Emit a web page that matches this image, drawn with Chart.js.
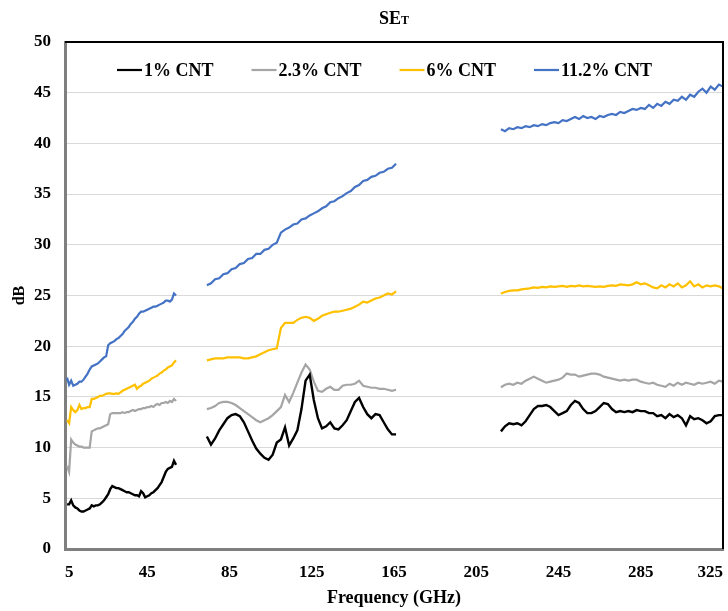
<!DOCTYPE html>
<html>
<head>
<meta charset="utf-8">
<title>SET</title>
<script src="https://cdn.jsdelivr.net/npm/chart.js@4/dist/chart.umd.min.js"></script>
<style>
  html, body { margin: 0; padding: 0; background: #fff; }
  #wrap { width: 728px; height: 611px; }
</style>
</head>
<body>
<div id="wrap"><canvas id="chart"></canvas></div>
<script>
const seriesLabels = ['1% CNT', '2.3% CNT', '6% CNT', '11.2% CNT'];
const xTicks = [5, 45, 85, 125, 165, 205, 245, 285, 325];

// three measured bands (GHz)
const freqLow = [6, 7, 8, 9, 10, 11, 12, 13, 14, 15, 16, 17, 18, 19, 20, 21, 22, 23, 24, 25, 26, 27, 28, 29, 30,
  31, 32, 33, 34, 35, 36, 37, 38, 39, 40, 41, 42, 43, 44, 45, 46, 47, 48, 49, 50, 51, 52, 53, 54, 55, 56, 57, 58, 59];
const freqMid = [74, 76, 78, 80, 82, 84, 86, 88, 90, 92, 94, 96, 98, 100, 102, 104, 106, 108, 110, 112, 114, 116,
  118, 120, 122, 124, 126, 128, 130, 132, 134, 136, 138, 140, 142, 144, 146, 148, 150, 152, 154, 156, 158, 160,
  162, 164, 166];
const freqHigh = [217, 219, 221, 223, 225, 227, 229, 231, 233, 235, 237, 239, 241, 243, 245, 247, 249, 251, 253,
  255, 257, 259, 261, 263, 265, 267, 269, 271, 273, 275, 277, 279, 281, 283, 285, 287, 289, 291, 293, 295, 297,
  299, 301, 303, 305, 307, 309, 311, 313, 315, 317, 319, 321, 323, 325];

// SE_T in dB
const cnt1Low = [4.4, 4.4, 4.8, 4.3, 4.1, 4.0, 3.8, 3.7, 3.7, 3.8, 3.9, 4.0, 4.3, 4.2, 4.3, 4.3, 4.4, 4.6, 4.8, 5.1,
  5.4, 5.9, 6.2, 6.1, 6.0, 6.0, 5.9, 5.8, 5.7, 5.6, 5.6, 5.5, 5.4, 5.3, 5.3, 5.2, 5.7, 5.5, 5.1, 5.2,
  5.3, 5.5, 5.6, 5.8, 6.0, 6.3, 6.6, 7.1, 7.6, 7.9, 8.0, 8.1, 8.7, 8.3];
const cnt1Mid = [11.1, 10.3, 10.9, 11.7, 12.3, 12.9, 13.2, 13.3, 13.1, 12.5, 11.6, 10.7, 9.9, 9.4, 9.0, 8.8, 9.3,
  10.5, 10.8, 12.0, 10.2, 10.9, 11.7, 13.8, 16.6, 17.2, 14.7, 12.9, 11.9, 12.1, 12.5, 11.9, 11.8, 12.2, 12.7,
  13.6, 14.5, 14.9, 14.0, 13.3, 12.9, 13.3, 13.2, 12.5, 11.8, 11.3, 11.3];
const cnt1High = [11.6, 12.1, 12.4, 12.3, 12.4, 12.2, 12.6, 13.2, 13.8, 14.1, 14.1, 14.2, 14.0, 13.6, 13.2, 13.4,
  13.6, 14.2, 14.6, 14.4, 13.8, 13.4, 13.4, 13.6, 14.0, 14.4, 14.3, 13.8, 13.5, 13.6, 13.5, 13.6, 13.5, 13.7,
  13.6, 13.6, 13.4, 13.4, 13.1, 13.2, 12.9, 13.3, 13.0, 13.2, 12.9, 12.2, 13.1, 12.8, 12.9, 12.7, 12.4, 12.6,
  13.1, 13.2, 13.2];

const cnt23Low = [8.2, 7.6, 10.8, 10.5, 10.3, 10.2, 10.1, 10.1, 10.0, 10.0, 10.0, 10.0, 11.6, 11.7, 11.8, 11.9,
  11.9, 12.0, 12.1, 12.2, 12.3, 13.3, 13.4, 13.4, 13.4, 13.4, 13.4, 13.5, 13.4, 13.5, 13.5, 13.6, 13.7, 13.6,
  13.7, 13.8, 13.8, 13.9, 13.9, 14.0, 14.0, 14.1, 14.0, 14.2, 14.3, 14.2, 14.4, 14.4, 14.5, 14.4, 14.6, 14.5,
  14.8, 14.6];
const cnt23Mid = [13.8, 13.9, 14.1, 14.4, 14.5, 14.5, 14.4, 14.2, 13.9, 13.6, 13.3, 13.0, 12.7, 12.5, 12.7, 12.9,
  13.2, 13.6, 14.0, 15.2, 14.5, 15.4, 16.4, 17.4, 18.2, 17.7, 16.5, 15.6, 15.5, 15.8, 16.0, 15.7, 15.7, 16.1,
  16.2, 16.2, 16.3, 16.6, 16.1, 16.0, 15.9, 15.9, 15.8, 15.8, 15.7, 15.6, 15.7];
const cnt23High = [15.95, 16.2, 16.3, 16.2, 16.4, 16.3, 16.6, 16.8, 17.0, 16.8, 16.6, 16.4, 16.5, 16.6, 16.7, 16.9,
  17.3, 17.2, 17.2, 17.0, 17.1, 17.2, 17.3, 17.3, 17.2, 17.0, 16.9, 16.8, 16.7, 16.6, 16.7, 16.6, 16.7, 16.7,
  16.5, 16.4, 16.3, 16.4, 16.2, 16.1, 16.0, 16.3, 16.1, 16.4, 16.2, 16.4, 16.3, 16.2, 16.4, 16.3, 16.4, 16.5,
  16.3, 16.6, 16.5];

const cnt6Low = [12.7, 12.4, 14.0, 13.7, 13.5, 13.7, 14.2, 13.8, 13.9, 13.9, 14.0, 14.0, 14.8, 14.8, 14.9, 15.0,
  15.1, 15.1, 15.2, 15.3, 15.35, 15.35, 15.3, 15.3, 15.35, 15.3, 15.45, 15.6, 15.7, 15.8, 15.9, 16.0, 16.1, 16.2,
  15.8, 16.0, 16.1, 16.3, 16.4, 16.5, 16.6, 16.8, 16.9, 17.0, 17.1, 17.3, 17.4, 17.6, 17.7, 17.9, 18.0, 18.1,
  18.4, 18.6];
const cnt6Mid = [18.6, 18.7, 18.8, 18.8, 18.8, 18.9, 18.9, 18.9, 18.9, 18.8, 18.8, 18.9, 19.0, 19.2, 19.4, 19.6,
  19.7, 19.8, 21.8, 22.3, 22.3, 22.3, 22.6, 22.8, 22.9, 22.8, 22.5, 22.7, 23.0, 23.15, 23.3, 23.4, 23.4, 23.5,
  23.6, 23.7, 23.9, 24.1, 24.4, 24.3, 24.5, 24.7, 24.8, 25.0, 25.2, 25.1, 25.4];
const cnt6High = [25.2, 25.35, 25.45, 25.5, 25.5, 25.6, 25.65, 25.7, 25.8, 25.75, 25.85, 25.8, 25.9, 25.85, 25.9,
  25.95, 25.85, 25.95, 25.9, 26.0, 25.9, 25.95, 25.9, 25.85, 25.9, 25.85, 25.95, 26.0, 25.95, 26.1, 26.05, 26.0,
  26.1, 26.3, 26.1, 26.2, 26.0, 25.8, 25.7, 26.0, 25.8, 26.1, 25.9, 26.2, 25.8, 26.0, 26.4, 25.9, 26.1, 25.8,
  26.0, 25.9, 26.0, 25.9, 25.7];

const cnt112Low = [16.9, 16.2, 16.6, 16.1, 16.2, 16.3, 16.5, 16.5, 16.7, 17.0, 17.3, 17.7, 18.0, 18.1, 18.2, 18.3,
  18.5, 18.7, 18.9, 19.0, 20.1, 20.3, 20.4, 20.5, 20.7, 20.8, 21.0, 21.2, 21.5, 21.7, 21.9, 22.2, 22.4, 22.7,
  22.9, 23.2, 23.4, 23.4, 23.5, 23.6, 23.7, 23.8, 23.9, 23.9, 24.0, 24.1, 24.2, 24.3, 24.5, 24.5, 24.4, 24.6,
  25.2, 25.0];
const cnt112Mid = [26.0, 26.2, 26.6, 26.7, 27.1, 27.2, 27.6, 27.7, 28.1, 28.2, 28.6, 28.7, 29.1, 29.1, 29.5, 29.6,
  30.0, 30.2, 31.2, 31.5, 31.7, 32.0, 32.1, 32.5, 32.6, 32.9, 33.1, 33.3, 33.6, 33.8, 34.2, 34.3, 34.6, 34.8,
  35.1, 35.3, 35.7, 35.9, 36.3, 36.4, 36.7, 36.8, 37.1, 37.2, 37.5, 37.6, 38.0];
const cnt112High = [41.4, 41.2, 41.5, 41.4, 41.6, 41.5, 41.7, 41.6, 41.8, 41.7, 41.9, 41.8, 42.0, 42.1, 42.0, 42.3,
  42.2, 42.4, 42.6, 42.4, 42.7, 42.5, 42.6, 42.4, 42.7, 42.6, 42.8, 42.9, 42.8, 43.1, 43.0, 43.2, 43.4, 43.3,
  43.5, 43.4, 43.8, 43.5, 43.9, 43.7, 44.1, 43.9, 44.3, 44.2, 44.6, 44.3, 44.8, 44.6, 45.1, 45.4, 45.0, 45.6,
  45.3, 45.8, 45.6];

const lineColors = ['#000000', '#a5a5a5', '#ffc000', '#4472c4'];
const serif = "'Liberation Serif', 'Times New Roman', serif";

// bands joined into one line with a null point between them so the gaps stay open
function joinBands(bands) {
  const pts = [];
  bands.forEach(([freqs, vals], b) => {
    if (b > 0) pts.push({ x: freqs[0] - 1, y: null });
    freqs.forEach((f, i) => pts.push({ x: f, y: vals[i] }));
  });
  return pts;
}

const seriesData = [
  joinBands([[freqLow, cnt1Low], [freqMid, cnt1Mid], [freqHigh, cnt1High]]),
  joinBands([[freqLow, cnt23Low], [freqMid, cnt23Mid], [freqHigh, cnt23High]]),
  joinBands([[freqLow, cnt6Low], [freqMid, cnt6Mid], [freqHigh, cnt6High]]),
  joinBands([[freqLow, cnt112Low], [freqMid, cnt112Mid], [freqHigh, cnt112High]])
];

// title "SE" with a small T, legend inside the plot, black frame top/right
const decorations = {
  id: 'decorations',
  afterDatasetsDraw(chart) {
    const { ctx, chartArea: area } = chart;
    ctx.save();

    ctx.strokeStyle = '#000';
    ctx.lineWidth = 2;
    ctx.beginPath();
    ctx.moveTo(area.left, area.top);
    ctx.lineTo(area.right, area.top);
    ctx.lineTo(area.right, area.bottom);
    ctx.stroke();

    ctx.fillStyle = '#000';
    ctx.textBaseline = 'alphabetic';
    ctx.font = 'bold 18px ' + serif;
    const w1 = ctx.measureText('SE').width;
    ctx.font = 'bold 12px ' + serif;
    const w2 = ctx.measureText('T').width;
    let tx = (area.left + area.right) / 2 - (w1 + w2) / 2;
    ctx.font = 'bold 18px ' + serif;
    ctx.fillText('SE', tx, 24);
    ctx.font = 'bold 12px ' + serif;
    ctx.fillText('T', tx + w1, 24);

    ctx.font = 'bold 18px ' + serif;
    ctx.textBaseline = 'middle';
    let x = area.left + 52;
    const y = area.top + 28;
    chart.data.datasets.forEach(ds => {
      ctx.strokeStyle = ds.borderColor;
      ctx.lineWidth = 2.2;
      ctx.beginPath();
      ctx.moveTo(x, y);
      ctx.lineTo(x + 25, y);
      ctx.stroke();
      x += 27;
      ctx.fillText(ds.label, x, y + 1);
      x += ctx.measureText(ds.label).width + 38;
    });
    ctx.restore();
  }
};

const ctx = document.getElementById('chart').getContext('2d');
const myChart = new Chart(ctx, {
  type: 'line',
  data: {
    datasets: seriesLabels.map((label, i) => ({
      label: label,
      data: seriesData[i],
      borderColor: lineColors[i],
      backgroundColor: lineColors[i],
      borderWidth: i === 0 ? 2.4 : 2.2,
      pointRadius: 0,
      tension: 0,
      spanGaps: false,
      fill: false
    }))
  },
  options: {
    responsive: true,
    maintainAspectRatio: false,
    animation: false,
    layout: { padding: { top: 42, right: 5, left: 0, bottom: 0 } },
    plugins: {
      legend: { display: false },
      title: { display: false },
      tooltip: { enabled: false }
    },
    scales: {
      x: {
        type: 'linear',
        min: 5,
        max: 325,
        afterBuildTicks: (scale) => {
          scale.ticks = xTicks.map(v => ({ value: v }));
        },
        afterFit: (scale) => {
          scale.height = 62;
          scale.paddingLeft = 0;
          scale.paddingRight = 0;
        },
        grid: { display: false, drawTicks: false },
        border: { color: '#7f7f7f', width: 3 },
        ticks: {
          color: '#000',
          font: { family: serif, size: 17, weight: 'bold' },
          padding: 13,
          maxRotation: 0,
          align: 'inner',
          autoSkip: false
        },
        title: {
          display: true,
          text: 'Frequency (GHz)',
          color: '#000',
          font: { family: serif, size: 18, weight: 'bold' },
          padding: { top: 0, bottom: 2 }
        }
      },
      y: {
        min: 0,
        max: 50,
        afterFit: (scale) => {
          scale.width = 65;
        },
        grid: { color: '#d9d9d9', lineWidth: 1, drawTicks: false },
        border: { color: '#7f7f7f', width: 3 },
        ticks: {
          stepSize: 5,
          color: '#000',
          font: { family: serif, size: 17, weight: 'bold' },
          padding: 14
        },
        title: {
          display: true,
          text: 'dB',
          color: '#000',
          font: { family: serif, size: 16, weight: 'bold' },
          padding: { top: 10, bottom: 0 }
        }
      }
    }
  },
  plugins: [decorations]
});
</script>
</body>
</html>
